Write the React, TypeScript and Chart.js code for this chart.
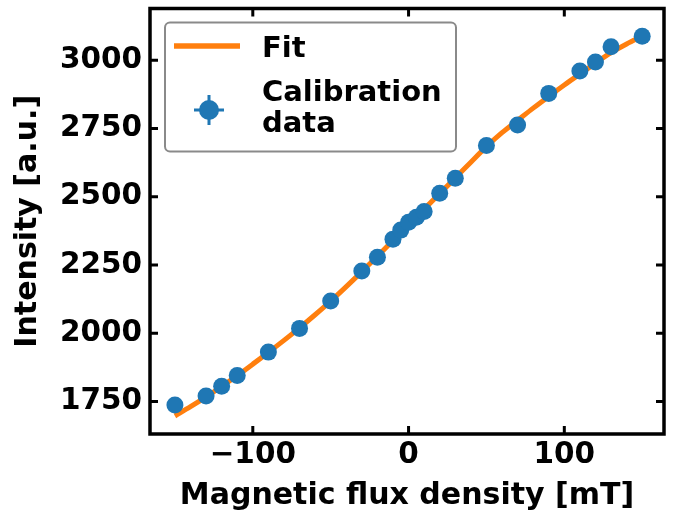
import React, { useEffect, useRef } from 'react';
import { Chart, registerables } from 'chart.js';

Chart.register(...registerables);

// Calibration data (magnetic flux density in mT, intensity in a.u.)
const fieldX = [-150, -130, -120, -110, -90, -70, -50, -30, -20, -10, -5, 0, 5, 10, 20, 30, 50, 70, 90, 110, 120, 130, 150];
const intensityY = [1737, 1770, 1806, 1845, 1931, 2018, 2118, 2228, 2279, 2345, 2378, 2407, 2425, 2446, 2513, 2568, 2688, 2763, 2879, 2961, 2994, 3050, 3088];

// Fit curve
const fitX = [-150, -140, -130, -120, -110, -100, -90, -80, -70, -60, -50, -40, -30, -20, -10, 0, 10, 20, 30, 40, 50, 60, 70, 80, 90, 100, 110, 120, 130, 140, 150];
const fitY = [1697, 1731, 1767, 1805, 1845, 1887, 1930, 1974, 2020, 2068, 2118, 2171, 2226, 2282, 2340, 2398, 2455, 2512, 2569, 2627, 2684, 2735, 2780, 2825, 2868, 2910, 2950, 2990, 3028, 3060, 3088];

const xTickValues = [-100, 0, 100];
const xTickLabels = ['\u2212100', '0', '100'];
const yTickValues = [1750, 2000, 2250, 2500, 2750, 3000];
const yTickLabels = ['1750', '2000', '2250', '2500', '2750', '3000'];

const xTitle = 'Magnetic flux density [mT]';
const yTitle = 'Intensity [a.u.]';
const fitLabel = 'Fit';
const dataLabelLines = ['Calibration', 'data'];

const FONT = '"DejaVu Sans", sans-serif';
const BLUE = '#1f77b4';
const ORANGE = '#ff7f0e';

const framePlugin = {
  id: 'frameTicks',
  afterDraw(chart: any) {
    const { ctx, chartArea, scales } = chart;
    const { left, right, top, bottom } = chartArea;
    ctx.save();
    ctx.strokeStyle = '#000';
    ctx.lineWidth = 3;
    ctx.lineCap = 'butt';
    const tl = 8;
    xTickValues.forEach((v) => {
      const px = scales.x.getPixelForValue(v);
      ctx.beginPath();
      ctx.moveTo(px, bottom);
      ctx.lineTo(px, bottom - tl);
      ctx.moveTo(px, top);
      ctx.lineTo(px, top + tl);
      ctx.stroke();
    });
    yTickValues.forEach((v) => {
      const py = scales.y.getPixelForValue(v);
      ctx.beginPath();
      ctx.moveTo(left, py);
      ctx.lineTo(left + tl, py);
      ctx.moveTo(right, py);
      ctx.lineTo(right - tl, py);
      ctx.stroke();
    });
    ctx.lineWidth = 3.5;
    ctx.strokeRect(left, top, right - left, bottom - top);
    ctx.restore();
  },
};

const legendPlugin = {
  id: 'customLegend',
  afterDraw(chart: any) {
    const { ctx } = chart;
    const fitDs = chart.data.datasets[1];
    ctx.save();
    // box
    ctx.beginPath();
    ctx.roundRect(165, 22.5, 291, 129, 5);
    ctx.fillStyle = 'rgba(255,255,255,0.85)';
    ctx.fill();
    ctx.strokeStyle = '#8a8a8a';
    ctx.lineWidth = 2;
    ctx.stroke();
    // fit line
    ctx.beginPath();
    ctx.moveTo(174, 46);
    ctx.lineTo(240, 46);
    ctx.strokeStyle = ORANGE;
    ctx.lineWidth = 5.5;
    ctx.stroke();
    // error bar marker
    const cx = 209, cy = 110;
    ctx.strokeStyle = BLUE;
    ctx.lineWidth = 3;
    ctx.beginPath();
    ctx.moveTo(cx - 15, cy);
    ctx.lineTo(cx + 15, cy);
    ctx.moveTo(cx, cy - 15);
    ctx.lineTo(cx, cy + 15);
    ctx.stroke();
    ctx.beginPath();
    ctx.arc(cx, cy, 10, 0, Math.PI * 2);
    ctx.fillStyle = BLUE;
    ctx.fill();
    // texts
    ctx.fillStyle = '#000';
    ctx.font = `bold 29px ${FONT}`;
    ctx.textBaseline = 'alphabetic';
    ctx.textAlign = 'left';
    ctx.fillText(fitDs.label, 262, 57);
    ctx.fillText(dataLabelLines[0], 262, 101);
    ctx.fillText(dataLabelLines[1], 262, 132);
    ctx.restore();
  },
};

function zeroPad(s: any) {
  s.paddingTop = 0;
  s.paddingBottom = 0;
  s.paddingLeft = 0;
  s.paddingRight = 0;
}

export default function App() {
  const canvasRef = useRef<HTMLCanvasElement | null>(null);

  useEffect(() => {
    if (!canvasRef.current) return;
    const tickFont = { family: FONT, weight: 'bold' as const, size: 29.5 };
    const titleFont = { family: FONT, weight: 'bold' as const, size: 30 };
    const chart = new Chart(canvasRef.current, {
      type: 'scatter',
      data: {
        datasets: [
          {
            label: dataLabelLines.join(' '),
            data: fieldX.map((x, i) => ({ x, y: intensityY[i] })),
            backgroundColor: BLUE,
            borderColor: BLUE,
            pointRadius: 8.5,
            pointBorderWidth: 0,
            showLine: false,
            order: 1,
          },
          {
            label: fitLabel,
            data: fitX.map((x, i) => ({ x, y: fitY[i] })),
            borderColor: ORANGE,
            backgroundColor: ORANGE,
            borderWidth: 5,
            pointRadius: 0,
            showLine: true,
            cubicInterpolationMode: 'monotone',
            order: 2,
          } as any,
        ],
      },
      options: {
        animation: false,
        responsive: false,
        devicePixelRatio: 1,
        layout: { padding: { top: 8, right: 13, left: 0, bottom: 0 } },
        plugins: { legend: { display: false }, tooltip: { enabled: false } },
        scales: {
          x: {
            type: 'linear',
            min: -166,
            max: 164,
            grid: { display: false, drawTicks: false },
            border: { display: false },
            afterFit: (s: any) => {
              s.height = 83;
              zeroPad(s);
            },
            afterBuildTicks: (s: any) => {
              s.ticks = xTickValues.map((v) => ({ value: v }));
            },
            ticks: {
              padding: 4,
              color: '#000',
              font: tickFont,
              autoSkip: false,
              maxRotation: 0,
              callback: (v: any) => {
                const i = xTickValues.indexOf(Number(v));
                return i >= 0 ? xTickLabels[i] : '';
              },
            },
            title: { display: true, text: xTitle, color: '#000', font: titleFont, padding: { top: 0, bottom: 3 } },
          },
          y: {
            type: 'linear',
            min: 1631,
            max: 3190,
            grid: { display: false, drawTicks: false },
            border: { display: false },
            afterFit: (s: any) => {
              s.width = 150;
              zeroPad(s);
            },
            afterBuildTicks: (s: any) => {
              s.ticks = yTickValues.map((v) => ({ value: v }));
            },
            ticks: {
              padding: 8,
              color: '#000',
              font: tickFont,
              autoSkip: false,
              callback: (v: any) => {
                const i = yTickValues.indexOf(Number(v));
                return i >= 0 ? yTickLabels[i] : '';
              },
            },
            title: { display: true, text: yTitle, color: '#000', font: titleFont, padding: { top: 10, bottom: 0 } },
          },
        },
      },
      plugins: [framePlugin, legendPlugin],
    });
    return () => chart.destroy();
  }, []);

  return (
    <div style={{ position: 'fixed', left: 0, top: 0, width: 677, height: 517, background: '#fff' }}>
      <canvas ref={canvasRef} width={677} height={517} style={{ width: 677, height: 517, display: 'block' }} />
    </div>
  );
}
